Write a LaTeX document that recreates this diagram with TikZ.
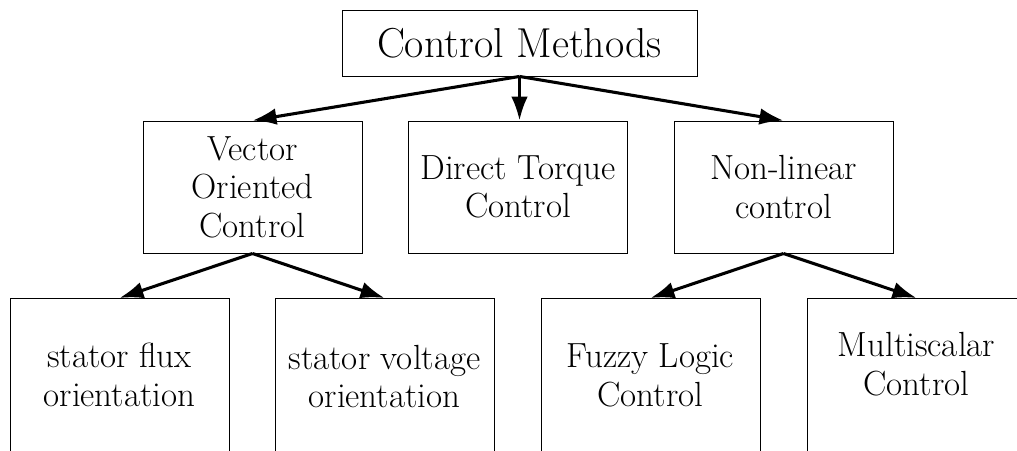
\documentclass[tikz,border=0pt]{standalone}
\usetikzlibrary{arrows.meta}
\begin{document}
\begin{tikzpicture}[x=0.75pt,y=-0.75pt,
  box/.style={draw=black,line width=0.7pt,inner sep=0pt,minimum width=164.25pt},
  midbox/.style={box,minimum height=99pt,align=center,font=\fontsize{26.2}{28.8}\selectfont},
  botbox/.style={box,minimum height=127.5pt,anchor=north},
  bottxt/.style={align=center,inner sep=0pt,font=\fontsize{26.2}{28.8}\selectfont},
  conn/.style={line width=2.3pt,-{Latex[length=18pt,width=12.5pt]}}]
\useasboundingbox (0,0) rectangle (1017,450);
\node[box,minimum width=266.25pt,minimum height=49.5pt,font=\fontsize{31.4}{36}\selectfont] (root) at (519.5,43) {Control Methods};
\node[midbox] (vec) at (252.5,187) {Vector\\Oriented\\Control};
\node[midbox] (dtc) at (518,187) {Direct Torque\\Control};
\node[midbox] (nl) at (783.5,187) {Non-linear\\control};
\node[botbox] (sf) at (119.5,298) {};
\node[botbox] (sv) at (384.5,298) {};
\node[botbox] (fz) at (650.5,298) {};
\node[botbox] (ms) at (916.5,298) {};
\node[bottxt] (sft) at (119.5,375) {stator flux\\orientation};
\node[bottxt] (svt) at (384.5,376.5) {stator voltage\\orientation};
\node[bottxt] (fzt) at (650.5,375.5) {Fuzzy Logic\\Control};
\node[bottxt] (mst) at (916.5,364) {Multiscalar\\Control};
\draw[conn] (root.south) -- (vec.north);
\draw[conn] (root.south) -- (root.south |- dtc.north);
\draw[conn] (root.south) -- (nl.north);
\draw[conn] (vec.south) -- (sf.north);
\draw[conn] (vec.south) -- (sv.north);
\draw[conn] (nl.south) -- (fz.north);
\draw[conn] (nl.south) -- (ms.north);
\end{tikzpicture}
\end{document}
